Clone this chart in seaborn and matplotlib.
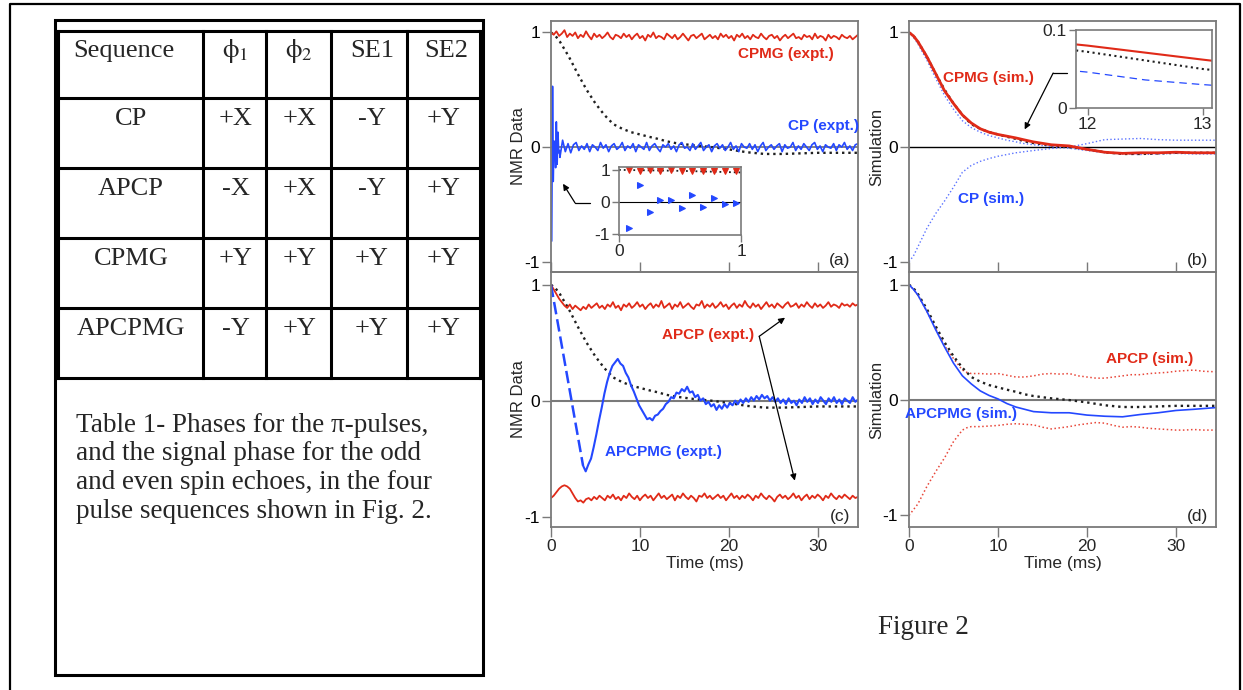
import numpy as np
import pandas as pd
import seaborn as sns
import matplotlib.pyplot as plt
from matplotlib.patches import Rectangle

sns.set_theme(style="ticks")
plt.rcParams['font.family'] = ['Liberation Sans', 'DejaVu Sans']
plt.rcParams['axes.unicode_minus'] = False
plt.rcParams['mathtext.fontset'] = 'stix'

RED = '#e02a18'
BLUE = '#2448ff'
GREY = '#7a7a7a'
T_END = 34.5

# ---------------- Table 1 ----------------
table_header = ['Sequence', r'$\mathrm{\phi}_1$', r'$\mathrm{\phi}_2$', 'SE1', 'SE2']
table_rows = [['CP', '+X', '+X', '-Y', '+Y'],
              ['APCP', '-X', '+X', '-Y', '+Y'],
              ['CPMG', '+Y', '+Y', '+Y', '+Y'],
              ['APCPMG', '-Y', '+Y', '+Y', '+Y']]
caption_lines = ['Table 1- Phases for the \u03c0-pulses,',
                 'and the signal phase for the odd',
                 'and even spin echoes, in the four',
                 'pulse sequences shown in Fig. 2.']

# ---------------- Fig 2 data (time in ms) ----------------
# black dotted reference curve, drawn in every panel
ref_t = [0, 0.5, 1, 2, 3, 4, 5, 6, 7, 8, 9, 10, 11, 12, 12.5, 13, 14, 16, 18, 20, 22, 24, 26, 28, 30, 32, 34.5]
ref_v = [1.0, 0.97, 0.92, 0.79, 0.64, 0.5, 0.38, 0.28, 0.2, 0.16, 0.13, 0.11, 0.09, 0.072, 0.061, 0.05,
         0.035, 0.015, 0.0, -0.02, -0.045, -0.06, -0.06, -0.055, -0.05, -0.05, -0.05]

# (a) experiment, first ms = individual echoes (also in inset)
echo_t = [0.08, 0.17, 0.25, 0.34, 0.43, 0.52, 0.60, 0.69, 0.78, 0.87, 0.96]
cp_echo = [-0.82, 0.53, -0.30, 0.05, 0.05, -0.18, 0.22, -0.15, 0.13, -0.05, -0.03]
cpmg_echo = [1.00, 0.97, 0.99, 0.98, 0.99, 0.97, 0.98, 0.96, 0.98, 0.97, 0.97]

cpmg_expt = [1.00, 0.98, 1.01, 0.97, 0.99, 1.02, 0.96, 0.99, 0.97, 1.00,
             0.95, 0.98, 0.96, 1.01, 0.97, 0.94, 0.99, 0.96, 0.98, 0.95,
             0.97, 1.00, 0.96, 0.94, 0.98, 0.97, 0.95, 0.99, 0.96, 0.98,
             0.94, 0.97, 0.99, 0.95, 0.97, 0.93, 0.98, 0.96, 1.00, 0.95,
             0.97, 0.96, 0.94, 0.99, 0.97, 0.95, 0.98, 0.94, 0.96, 0.99,
             0.96, 0.93, 0.97, 0.98, 0.95, 0.97, 0.99, 0.94, 0.96, 0.98,
             0.95, 0.97, 0.94, 0.99, 0.96, 0.98, 0.95, 0.97, 0.93, 0.98,
             0.96, 0.99, 0.95, 0.97, 0.94, 0.98, 0.96, 0.95, 0.99, 0.96,
             0.94, 0.97, 0.98, 0.95, 0.97, 0.93, 0.96, 0.98, 0.95, 0.97,
             0.99, 0.95, 0.96, 0.94, 0.98, 0.96, 0.97, 0.94, 0.99, 0.95,
             0.97, 0.96, 0.93, 0.98, 0.95, 0.97, 0.96, 0.94, 0.98, 0.96,
             0.95, 0.97, 0.94, 0.96, 0.98]
cp_expt = [-0.09, 0.06, -0.04, 0.03, -0.05, 0.02, 0.04, -0.03, 0.01, -0.02,
           0.03, -0.04, 0.02, 0.00, -0.03, 0.04, -0.01, 0.02, -0.04, 0.01,
           0.03, -0.02, 0.00, 0.04, -0.03, 0.01, -0.01, 0.03, -0.04, 0.02,
           0.00, -0.02, 0.04, -0.03, 0.01, 0.03, -0.01, -0.04, 0.02, 0.00,
           0.03, -0.02, 0.01, -0.04, 0.02, 0.04, -0.01, 0.00, -0.03, 0.03,
           -0.02, 0.01, 0.04, -0.03, 0.00, 0.02, -0.04, 0.01, 0.03, -0.01,
           0.02, -0.03, 0.00, 0.04, -0.02, 0.01, -0.04, 0.03, 0.00, -0.01,
           0.03, -0.02, 0.02, -0.04, 0.01, 0.04, -0.03, 0.00, 0.02, -0.02,
           0.01, 0.03, -0.04, 0.02, -0.01, 0.00, 0.04, -0.03, 0.01, -0.02,
           0.03, 0.00, -0.03, 0.02, 0.04, -0.02, 0.01, -0.04, 0.02, 0.00,
           -0.01, 0.03, -0.03, 0.02, 0.00, 0.04, -0.02, 0.01, -0.03, 0.02,
           0.03]

# (b) simulation
cpmg_sim_t = [0, 0.5, 1, 2, 3, 4, 5, 6, 7, 8, 9, 10, 11, 12, 12.5, 13, 14, 16, 18, 20, 22, 24, 26, 28, 30, 32, 34.5]
cpmg_sim = [1.0, 0.97, 0.92, 0.79, 0.64, 0.49, 0.38, 0.28, 0.21, 0.16, 0.13, 0.11, 0.095, 0.08, 0.071, 0.062,
            0.045, 0.02, 0.01, -0.02, -0.045, -0.055, -0.05, -0.05, -0.045, -0.05, -0.05]
cp_sim_pos = [1.0, 0.96, 0.9, 0.76, 0.6, 0.45, 0.33, 0.23, 0.17, 0.13, 0.1, 0.08, 0.06, 0.046, 0.036, 0.03,
              0.02, 0.005, -0.01, -0.03, -0.05, -0.06, -0.065, -0.06, -0.055, -0.06, -0.06]
cp_sim_neg_t = [0, 0.5, 1, 2, 3, 4, 5, 6, 7, 8, 9, 10, 12, 14, 16, 18, 20, 22, 24, 26, 28, 30, 32, 34.5]
cp_sim_neg = [-1.0, -0.95, -0.87, -0.71, -0.58, -0.47, -0.35, -0.22, -0.16, -0.125, -0.1, -0.08, -0.05,
              -0.03, -0.012, 0.0, 0.03, 0.065, 0.07, 0.075, 0.065, 0.06, 0.06, 0.06]

# (c) experiment
apcp_expt_pos = [1.00, 0.96, 0.92, 0.88, 0.85, 0.82, 0.80, 0.83, 0.79, 0.82,
                 0.80, 0.78, 0.81, 0.79, 0.83, 0.80, 0.82, 0.84, 0.80, 0.82,
                 0.79, 0.83, 0.81, 0.85, 0.80, 0.82, 0.78, 0.83, 0.81, 0.84,
                 0.80, 0.82, 0.85, 0.81, 0.83, 0.79, 0.82, 0.84, 0.80, 0.83,
                 0.81, 0.86, 0.80, 0.82, 0.84, 0.79, 0.83, 0.81, 0.85, 0.80,
                 0.82, 0.84, 0.81, 0.79, 0.83, 0.82, 0.86, 0.80, 0.83, 0.81,
                 0.84, 0.80, 0.82, 0.85, 0.81, 0.83, 0.79, 0.82, 0.84, 0.80,
                 0.83, 0.81, 0.86, 0.82, 0.80, 0.84, 0.81, 0.83, 0.79, 0.82,
                 0.85, 0.81, 0.83, 0.80, 0.84, 0.82, 0.80, 0.83, 0.85, 0.81,
                 0.82, 0.84, 0.80, 0.83, 0.81, 0.85, 0.82, 0.80, 0.84, 0.81,
                 0.83, 0.80, 0.82, 0.85, 0.81, 0.83, 0.82, 0.80, 0.84, 0.82,
                 0.83, 0.81, 0.84, 0.82, 0.83]
apcp_expt_neg = [-0.84, -0.82, -0.79, -0.76, -0.74, -0.73, -0.74, -0.76, -0.80, -0.84,
                 -0.87, -0.86, -0.88, -0.85, -0.84, -0.86, -0.83, -0.85, -0.82, -0.84,
                 -0.86, -0.82, -0.84, -0.81, -0.85, -0.83, -0.86, -0.82, -0.84, -0.80,
                 -0.83, -0.85, -0.82, -0.86, -0.83, -0.81, -0.84, -0.82, -0.86, -0.83,
                 -0.80, -0.84, -0.82, -0.85, -0.83, -0.81, -0.86, -0.82, -0.84, -0.80,
                 -0.83, -0.85, -0.82, -0.84, -0.87, -0.82, -0.83, -0.80, -0.84, -0.82,
                 -0.85, -0.83, -0.81, -0.84, -0.82, -0.86, -0.83, -0.80, -0.84, -0.82,
                 -0.85, -0.82, -0.84, -0.81, -0.83, -0.86, -0.82, -0.84, -0.80, -0.83,
                 -0.85, -0.82, -0.84, -0.87, -0.83, -0.81, -0.84, -0.82, -0.85, -0.83,
                 -0.80, -0.84, -0.82, -0.86, -0.83, -0.81, -0.85, -0.82, -0.84, -0.81,
                 -0.83, -0.86, -0.82, -0.84, -0.80, -0.83, -0.85, -0.82, -0.84, -0.81,
                 -0.83, -0.85, -0.82, -0.84, -0.83]
apcpmg_expt = [1.00, 0.87, 0.74, 0.61, 0.48, 0.35, 0.22, 0.09, -0.04, -0.17,
               -0.30, -0.43, -0.56, -0.61, -0.55, -0.50, -0.40, -0.29, -0.17, -0.06,
               0.06, 0.16, 0.24, 0.30, 0.33, 0.36, 0.32, 0.30, 0.24, 0.20,
               0.13, 0.08, 0.02, -0.04, -0.08, -0.12, -0.16, -0.15, -0.17, -0.13,
               -0.12, -0.09, -0.07, -0.03, -0.01, 0.03, 0.02, 0.07, 0.06, 0.10,
               0.08, 0.12, 0.07, 0.08, 0.03, 0.05, 0.00, 0.02, -0.03, -0.01,
               -0.05, -0.03, -0.08, -0.04, -0.07, -0.03, -0.06, -0.02, -0.04, 0.00,
               -0.03, 0.01, -0.02, 0.02, -0.01, 0.03, 0.00, 0.04, 0.01, 0.05,
               0.02, 0.04, 0.00, 0.03, -0.01, 0.02, -0.02, 0.01, -0.03, 0.02,
               -0.02, 0.00, -0.04, 0.01, -0.02, 0.03, -0.01, 0.02, -0.03, 0.01,
               -0.02, 0.03, 0.00, -0.03, 0.02, -0.01, 0.03, -0.02, 0.01, -0.03,
               0.02, 0.00, -0.02, 0.03, -0.01, 0.01]

# (d) simulation
apcp_sim_t = [0, 0.5, 1, 2, 3, 4, 5, 6, 6.5, 7, 8, 9, 10, 11, 12, 13, 14, 15, 16, 17, 18, 19, 20, 21,
              22, 23, 24, 25, 26, 27, 28, 29, 30, 31, 32, 33, 34.5]
apcp_sim_pos = [1.0, 0.96, 0.91, 0.77, 0.62, 0.47, 0.36, 0.26, 0.24, 0.23, 0.23, 0.225, 0.23, 0.215,
                0.2, 0.2, 0.21, 0.225, 0.23, 0.225, 0.23, 0.21, 0.2, 0.19, 0.19, 0.2, 0.21, 0.22, 0.22,
                0.23, 0.235, 0.24, 0.25, 0.255, 0.26, 0.25, 0.245]
apcp_sim_neg = [-1.0, -0.95, -0.9, -0.75, -0.62, -0.5, -0.36, -0.26, -0.24, -0.23, -0.23, -0.225, -0.22,
                -0.21, -0.205, -0.21, -0.215, -0.235, -0.25, -0.24, -0.23, -0.215, -0.205, -0.195, -0.2,
                -0.22, -0.235, -0.23, -0.235, -0.245, -0.25, -0.255, -0.26, -0.26, -0.255, -0.26, -0.26]
apcpmg_sim_t = [0, 0.5, 1, 2, 3, 4, 5, 6, 7, 8, 9, 10, 11, 12, 13, 14, 16, 18, 20, 22, 24, 26, 28, 30, 32, 34.5]
apcpmg_sim = [1.0, 0.96, 0.91, 0.77, 0.61, 0.46, 0.32, 0.21, 0.14, 0.08, 0.04, 0.01, -0.03, -0.06, -0.08,
              -0.1, -0.11, -0.11, -0.13, -0.14, -0.145, -0.125, -0.11, -0.09, -0.08, -0.065]


def line(ax, t, v, **kw):
    df = pd.DataFrame({'t': t, 'v': v})
    sns.lineplot(data=df, x='t', y='v', ax=ax, estimator=None, sort=False, **kw)


def grid(arr, start=0.0):
    return np.linspace(start, T_END, len(arr))


W, H = 1243, 690
fig = plt.figure(figsize=(W / 100, H / 100), dpi=100)


def px_axes(l, t, r, b, z=1):
    return fig.add_axes([l / W, 1 - b / H, (r - l) / W, (b - t) / H], zorder=z)


bg = px_axes(0, 0, W, H, z=0)
bg.set_xlim(0, W)
bg.set_ylim(H, 0)
bg.axis('off')

# outer page frame
bg.plot([10, 10, 1240, 1240], [H, 3.5, 3.5, H], color='black', lw=1.6, clip_on=False)

# table box
bg.add_patch(Rectangle((55.5, 20), 427.5, 655, fill=False, lw=2.2, ec='black'))
row_y = [31, 98, 168, 238, 308, 378]
col_x = [58, 203, 266, 331, 407, 480]
for y in row_y:
    bg.plot([col_x[0], col_x[-1]], [y, y], color='black', lw=2.2, solid_capstyle='projecting')
for x in col_x:
    bg.plot([x, x], [row_y[0], row_y[-1]], color='black', lw=2.2, solid_capstyle='projecting')

serif = ['Liberation Serif', 'DejaVu Serif']
head_x = [124, 235, 299, 372, 446]
body_x = [131, 236, 300, 372, 444]
for j, lab in enumerate(table_header):
    bg.text(head_x[j], 57, lab, ha='center', va='baseline', fontsize=19, family=serif)
for i, row in enumerate(table_rows):
    for j, lab in enumerate(row):
        bg.text(body_x[j], row_y[i + 1] + 27, lab, ha='center', va='baseline', fontsize=19, family=serif)
for k, txt in enumerate(caption_lines):
    bg.text(76, 432 + 28.5 * k, txt, ha='left', va='baseline', fontsize=19.5, family=serif)
bg.text(923, 627, 'Figure 2', ha='center', va='center', fontsize=19.5, family=serif)

ax_a = px_axes(551, 21, 858, 272)
ax_b = px_axes(909, 21, 1216, 272)
ax_c = px_axes(551, 272, 858, 527)
ax_d = px_axes(909, 272, 1216, 527)

for ax in (ax_a, ax_b, ax_c, ax_d):
    ax.set_facecolor('none')
    for s in ax.spines.values():
        s.set_visible(True)
        s.set_color(GREY)
        s.set_linewidth(1.3)
    ax.set_xlim(0, T_END)
    ax.set_yticks([-1, 0, 1])
    ax.tick_params(axis='y', direction='out', length=6.5, width=1, color=GREY,
                   labelsize=12.5, pad=1.5, labelcolor='black')

# ---- panel (a)
ax = ax_a
ax.axhline(0, color=GREY, lw=1.3, zorder=0)
line(ax, ref_t, ref_v, color='#202020', lw=1.7, linestyle=':')
line(ax, grid(cpmg_expt), cpmg_expt, color=RED, lw=1.3)
line(ax, echo_t + list(grid(cp_expt, 1.0)), cp_echo + cp_expt, color=BLUE, lw=1.2)
ax.text(26.4, 0.81, 'CPMG (expt.)', color=RED, fontsize=11, fontweight='bold', ha='center', va='center')
ax.text(30.6, 0.18, 'CP (expt.)', color=BLUE, fontsize=11, fontweight='bold', ha='center', va='center')
ax.plot([4.4, 2.7], [-0.487, -0.487], color='black', lw=0.9)
ax.annotate('', xy=(1.35, -0.32), xytext=(2.7, -0.487),
            arrowprops=dict(arrowstyle='-|>', color='black', lw=0.9, mutation_scale=9, shrinkA=0, shrinkB=0))
ax.text(0.975, 0.045, '(a)', transform=ax.transAxes, ha='right', va='center', fontsize=12.5)
ax.set_ylim(-1.09, 1.10)

# ---- panel (b)
ax = ax_b
ax.axhline(0, color='black', lw=1.0, zorder=0)
line(ax, cpmg_sim_t, cp_sim_pos, color='#5b73ff', lw=1.0, linestyle=':')
line(ax, cp_sim_neg_t, cp_sim_neg, color='#5b73ff', lw=1.0, linestyle=':')
line(ax, ref_t, ref_v, color='#202020', lw=1.7, linestyle=':')
line(ax, cpmg_sim_t, cpmg_sim, color=RED, lw=2.0)
ax.text(8.9, 0.6, 'CPMG (sim.)', color=RED, fontsize=11, fontweight='bold', ha='center', va='center')
ax.text(9.2, -0.45, 'CP (sim.)', color=BLUE, fontsize=11, fontweight='bold', ha='center', va='center')
ax.plot([17.7, 16.2], [0.646, 0.646], color='black', lw=0.9)
ax.annotate('', xy=(13.0, 0.154), xytext=(16.2, 0.646),
            arrowprops=dict(arrowstyle='-|>', color='black', lw=0.9, mutation_scale=9, shrinkA=0, shrinkB=0))
ax.text(0.975, 0.045, '(b)', transform=ax.transAxes, ha='right', va='center', fontsize=12.5)
ax.set_ylim(-1.09, 1.10)

# ---- panel (c)
ax = ax_c
ax.axhline(0, color=GREY, lw=1.5, zorder=0)
line(ax, ref_t, ref_v, color='#202020', lw=1.7, linestyle=':')
line(ax, grid(apcp_expt_pos), apcp_expt_pos, color=RED, lw=1.3)
line(ax, grid(apcp_expt_neg), apcp_expt_neg, color=RED, lw=1.3)
tg = grid(apcpmg_expt)
line(ax, tg[:13], apcpmg_expt[:13], color=BLUE, lw=1.8, dashes=(5, 2))
line(ax, tg[12:], apcpmg_expt[12:], color=BLUE, lw=1.5)
ax.text(17.6, 0.57, 'APCP (expt.)', color=RED, fontsize=11, fontweight='bold', ha='center', va='center')
ax.text(12.6, -0.44, 'APCPMG (expt.)', color=BLUE, fontsize=11, fontweight='bold', ha='center', va='center')
for end in [(26.3, 0.716), (27.4, -0.69)]:
    ax.annotate('', xy=end, xytext=(23.4, 0.555),
                arrowprops=dict(arrowstyle='-|>', color='black', lw=0.9, mutation_scale=9, shrinkA=0, shrinkB=0))
ax.text(0.975, 0.04, '(c)', transform=ax.transAxes, ha='right', va='center', fontsize=12.5)
ax.set_ylim(-1.09, 1.11)

# ---- panel (d)
ax = ax_d
ax.axhline(0, color=GREY, lw=1.5, zorder=0)
line(ax, apcp_sim_t, apcp_sim_pos, color='#e8473a', lw=1.1, linestyle=':')
line(ax, apcp_sim_t, apcp_sim_neg, color='#e8473a', lw=1.1, linestyle=':')
line(ax, ref_t, ref_v, color='#202020', lw=1.7, linestyle=':')
line(ax, apcpmg_sim_t, apcpmg_sim, color=BLUE, lw=1.2)
ax.text(27.0, 0.36, 'APCP (sim.)', color=RED, fontsize=11, fontweight='bold', ha='center', va='center')
ax.text(5.8, -0.12, 'APCPMG (sim.)', color=BLUE, fontsize=11, fontweight='bold', ha='center', va='center')
ax.text(0.975, 0.04, '(d)', transform=ax.transAxes, ha='right', va='center', fontsize=12.5)
ax.set_ylim(-1.1, 1.11)

for ax in (ax_a, ax_b):
    ax.set_xticks([0, 10, 20, 30])
    ax.tick_params(axis='x', direction='in', length=7, width=1, color=GREY, labelbottom=False)
    ax.set_xlabel('')
for ax in (ax_c, ax_d):
    ax.set_xticks([0, 10, 20, 30])
    ax.tick_params(axis='x', direction='out', length=7, width=1, color=GREY, labelsize=12.5, pad=1.5)
    ax.set_xlabel('Time (ms)', fontsize=12.5)
    ax.xaxis.set_label_coords(0.5, -0.115)
for ax in (ax_a, ax_c):
    ax.set_ylabel('NMR Data', fontsize=12)
    ax.yaxis.set_label_coords(-0.082, 0.5)
for ax in (ax_b, ax_d):
    ax.set_ylabel('Simulation', fontsize=12)
    ax.yaxis.set_label_coords(-0.082, 0.5)

# ---- inset in (a)
ins = px_axes(619, 167, 741, 235, z=3)
ins.set_facecolor('white')
ins.axhline(0, color='black', lw=0.8, zorder=0)
line(ins, ref_t[:3], ref_v[:3], color='#202020', lw=1.3, linestyle=':')
line(ins, echo_t, cpmg_echo, color=RED, lw=0, marker='v', markersize=4, markeredgecolor=RED)
line(ins, echo_t, cp_echo, color=BLUE, lw=0, marker='>', markersize=4, markeredgecolor=BLUE)
ins.set_xlim(0, 1.0)
ins.set_ylim(-1.03, 1.09)
ins.set_yticks([-1, 0, 1])
ins.set_xticks([0, 1])
ins.set_xlabel('')
ins.set_ylabel('')

# ---- inset in (b)
ins2 = px_axes(1076, 30, 1212, 108, z=3)
ins2.set_facecolor('white')
line(ins2, cpmg_sim_t, cpmg_sim, color=RED, lw=1.5)
line(ins2, ref_t, ref_v, color='#202020', lw=1.5, linestyle=':')
line(ins2, cpmg_sim_t, cp_sim_pos, color=BLUE, lw=0.9, dashes=(6, 4))
ins2.set_xlim(11.9, 13.08)
ins2.set_ylim(0, 0.1)
ins2.set_yticks([0, 0.1])
ins2.set_yticklabels(['0', '0.1'])
ins2.set_xticks([12, 13])
ins2.set_xlabel('')
ins2.set_ylabel('')

for a in (ins, ins2):
    for s in a.spines.values():
        s.set_visible(True)
        s.set_color(GREY)
        s.set_linewidth(1.2)
    a.tick_params(direction='out', length=5, width=1, color=GREY, labelsize=12.5, pad=1.5)

fig.savefig('out.png', dpi=100)
